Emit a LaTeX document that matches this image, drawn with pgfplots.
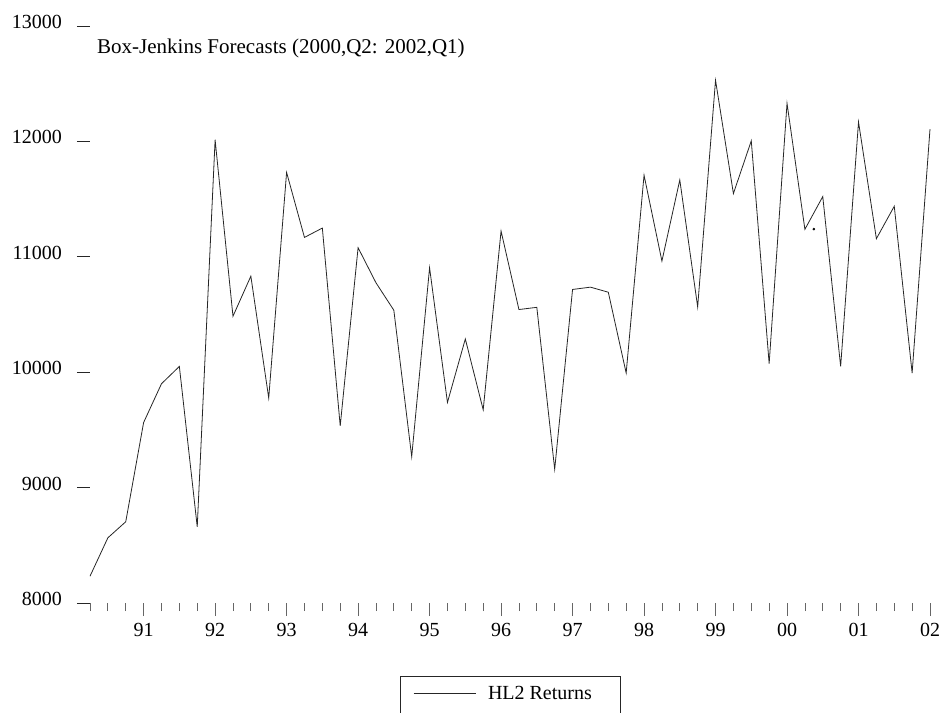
\documentclass[border=0pt]{standalone}
\usepackage{fontspec}
\setmainfont{Liberation Serif}
\usepackage{pgfplots}
\pgfplotsset{compat=1.18}

% quarterly series, 1990Q2 (t = 0) to 2002Q1 (t = 47)
\newcommand{\chartfont}{\fontsize{20bp}{24bp}\selectfont}
\newcommand{\titlefont}{\fontsize{21bp}{25bp}\selectfont}

\begin{document}
\begin{tikzpicture}
\path[use as bounding box] (0bp,0bp) rectangle (939bp,713bp);
\clip (0bp,0bp) rectangle (939bp,713bp);
\begin{axis}[
  at={(90bp,110bp)}, anchor=south west,
  scale only axis, width=840bp, height=577bp,
  xmin=0, xmax=47, ymin=8000, ymax=13000,
  axis line style={draw=none},
  tick pos=left, tick align=outside,
  major tick length=13bp, minor tick length=8bp,
  xtick={3,7,...,47},
  xticklabels={91,92,93,94,95,96,97,98,99,00,01,02},
  minor xtick={0,...,47},
  xtick style={black!60, line width=0.8bp},
  ytick={8000,9000,...,13000},
  ytick style={black!85, line width=0.8bp},
  scaled y ticks=false,
  /pgf/number format/assume math mode=true,
  /pgf/number format/1000 sep={},
  tick label style={font=\chartfont},
  yticklabel style={anchor=east, inner sep=0pt, yshift=4bp, xshift=-15bp},
  xticklabel style={anchor=north, inner sep=0pt, yshift=-7bp},
  legend style={at={(0.38452,-0.1565)}, anchor=west, draw=none, fill=none,
    inner sep=0pt, nodes={inner sep=0pt}, column sep=12bp, font=\chartfont},
  legend image code/.code={\draw[#1] (0bp,0bp) -- (62bp,0bp);},
  clip=false,
]
\addplot[black!85, line width=0.8bp] table[x=t, y=v] {
t  v
0  8232
1  8565
2  8704
3  9564
4  9900
5  10050
6  8660
7  12014
8  10485
9  10832
10 9776
11 11731
12 11168
13 11249
14 9535
15 11079
16 10775
17 10537
18 9268
19 10905
20 9738
21 10288
22 9674
23 11223
24 10543
25 10562
26 9159
27 10717
28 10737
29 10693
30 9993
31 11707
32 10963
33 11666
34 10566
35 12530
36 11548
37 12005
38 10074
39 12330
40 11238
41 11522
42 10050
43 12168
44 11157
45 11438
46 9993
47 12107
};
\addlegendentry{HL2 Returns}
\addplot[forget plot, only marks, mark=*, mark size=1.1bp, black] coordinates {(40.5,11240)};
\end{axis}
\node[anchor=west, inner sep=0pt, font=\titlefont] at (97bp,664.5bp)
  {Box-Jenkins Forecasts (2000,Q2: 2002,Q1)};
\draw[black!85, line width=0.8bp] (400.7bp,-5bp) |- (620bp,36.3bp) -- (620bp,-5bp);
\end{tikzpicture}
\end{document}
